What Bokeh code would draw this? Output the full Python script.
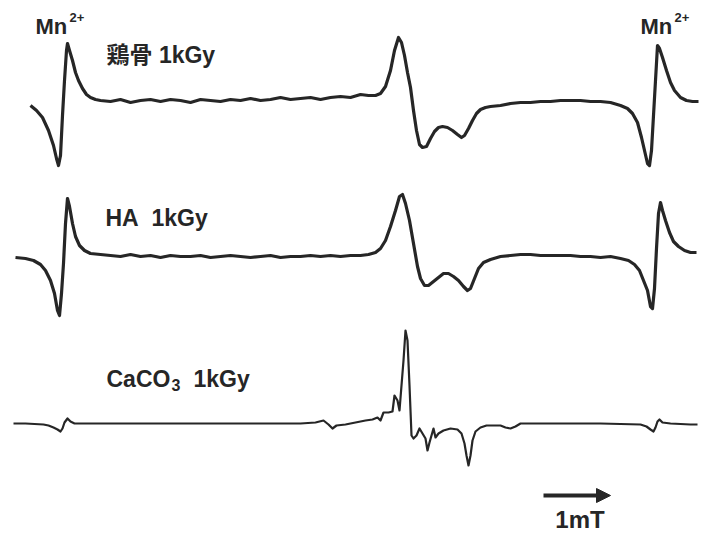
from bokeh.plotting import figure
from bokeh.models import Range1d, Label, Arrow, NormalHead, ColumnDataSource
from bokeh.embed import file_html
from bokeh.resources import INLINE

# ---------------- data ----------------
# magnetic field in scan units (FIELD_PER_MT units = 1 mT), intensity in arbitrary units
FIELD_PER_MT = 67

bone_field = [30, 36, 42, 48, 53, 56, 58, 60, 62, 64, 66, 67, 69, 72, 75, 78, 82, 86, 90, 95, 100,
              110, 120, 130, 140, 150, 160, 170, 180, 190, 200, 210, 220, 230, 240, 250, 260, 270,
              280, 290, 300, 310, 320, 330, 340, 350, 360, 368, 375, 380, 385, 390, 394, 398, 401,
              404, 407, 410, 413, 416, 419, 422, 426, 430, 434, 438, 442, 447, 452, 457, 461, 464,
              468, 472, 476, 480, 485, 490, 500, 510, 520, 530, 540, 550, 560, 570, 580, 590, 600,
              610, 620, 627, 632, 637, 641, 644, 647, 649, 651, 653, 655, 657, 659, 662, 666, 670,
              674, 680, 686, 692, 698]
bone_int = [-5, -10, -17, -30, -45, -58, -65, -55, -15, 20, 50, 57, 50, 40, 28, 20, 12, 6, 3, 1, 0,
            -1, 1, -2, 0, 1, -1, 1, 0, -2, 1, 0, -1, 1, 0, 2, 0, 1,
            3, 1, 2, 3, 1, 3, 4, 3, 6, 5, 5, 7, 14, 30, 50, 63, 58,
            45, 28, 13, -10, -30, -44, -47, -46, -38, -31, -27, -26, -27, -30, -34, -37, -35,
            -28, -20, -13, -9, -7, -6, -5, -3, -2, -2, -1, -1, 0, 0, 0, -1, -1,
            -2, -5, -8, -13, -22, -37, -50, -63, -65, -50, -15, 20, 55, 52, 43, 30, 18,
            10, 3, 0, -1, -1]

ha_field = [15, 25, 33, 40, 45, 50, 54, 57, 59, 61, 63, 65, 67, 69, 72, 75, 79, 84, 90, 100,
            110, 120, 130, 140, 150, 160, 170, 180, 190, 200, 210, 220, 230, 240, 250, 260, 270,
            280, 290, 300, 310, 320, 330, 340, 350, 360, 368, 375, 380, 385, 390, 395, 399, 402,
            405, 409, 413, 417, 420, 424, 428, 433, 438, 443, 448, 453, 458, 463, 467, 470, 474,
            478, 483, 490, 500, 510, 520, 530, 540, 550, 560, 570, 580, 590, 600, 610, 620, 628,
            634, 639, 643, 647, 650, 652, 654, 656, 658, 660, 662, 665, 669, 673, 678, 684, 690, 696]
ha_int = [1, 0, -2, -6, -12, -22, -35, -52, -57, -35, -5, 35, 60, 52, 35, 22, 13, 8, 5, 4,
          3, 2, 4, 2, 3, 1, 3, 2, 2, 3, 1, 2, 3, 2, 1, 2, 3,
          1, 2, 2, 3, 2, 3, 2, 3, 3, 4, 6, 10, 18, 32, 48, 62, 64,
          55, 38, 15, -8, -20, -27, -27, -23, -19, -15, -15, -18, -22, -28, -32, -30, -20,
          -10, -4, -1, 2, 3, 4, 4, 3, 3, 3, 3, 2, 2, 1, 2, 0, -2,
          -6, -12, -22, -32, -48, -50, -30, 10, 45, 56, 48, 38, 26, 17, 12, 8, 6, 6]

caco3_field = [13, 25, 43, 48, 53, 57, 60, 62, 64, 67, 70, 74, 85, 100, 150, 200, 250, 300, 315,
               323, 328, 332, 336, 345, 355, 365, 372, 377, 380, 383, 388, 392, 394, 397, 399, 401,
               403, 405, 407, 409, 411, 413, 416, 419, 422, 425, 427, 429, 431, 433, 435, 438, 443,
               450, 457, 461, 464, 466, 468, 470, 472, 475, 480, 486, 492, 500, 505, 510, 515, 520,
               550, 600, 640, 646, 650, 653, 655, 657, 659, 662, 670, 690, 697]
caco3_int = [2, 2, 1, 0, -2, -4, -6, -3, 3, 7, 4, 2, 2, 2, 2, 2, 2, 2, 3,
             5, 1, -3, 0, 1, 3, 5, 6, 8, 5, 13, 13, 14, 30, 25, 15, 40,
             65, 95, 85, 40, -10, -13, -10, -3, -8, -13, -25, -17, -10, -3, -12, -8, -5,
             -3, -4, -8, -18, -30, -40, -30, -15, -6, -2, 0, 0, 0, -2, -3, -1, 2,
             2, 2, 1, -1, -4, -6, -2, 4, 6, 3, 2, 1, 1]

NBSP = "\u00a0"
sample_labels = ["鶏骨" + NBSP + "1kGy", "HA" + NBSP + NBSP + "1kGy"]
caco3_label = ("CaCO", "3", "1kGy")
trace_offsets = [434, 276, 109]   # vertical stacking of the three spectra
ion_label = "Mn"
ion_charge = "2+"
scale_label = "1mT"

# ---------------- figure ----------------
INK = "#262626"
p = figure(width=712, height=534, output_backend="svg", toolbar_location=None,
           x_range=Range1d(0, 712), y_range=Range1d(0, 534), min_border=0)
p.axis.visible = False
p.grid.visible = False
p.outline_line_color = None
p.background_fill_color = "white"
p.border_fill_color = "white"

traces = [(bone_field, bone_int, 3.2), (ha_field, ha_int, 3.2), (caco3_field, caco3_int, 2.2)]
for (fx, iy, lw), off in zip(traces, trace_offsets):
    src = ColumnDataSource(dict(x=fx, y=[off + v for v in iy]))
    p.line("x", "y", source=src, line_color=INK, line_width=lw, line_join="round")

FONT = "Liberation Sans, Noto Sans CJK JP"


def lab(x, y, text, size, baseline="alphabetic", align="left"):
    p.add_layout(Label(x=x, y=y, text=text, text_font=FONT, text_font_size=size,
                       text_font_style="bold", text_color=INK, text_baseline=baseline,
                       text_align=align))


# sample names
lab(106, trace_offsets[0] + 46, sample_labels[0], "23px")
lab(105, trace_offsets[1] + 41, sample_labels[1], "23px")
lab(106, trace_offsets[2] + 47, caco3_label[0], "23px")
lab(171, trace_offsets[2] + 41, caco3_label[1], "16px")
lab(193, trace_offsets[2] + 47, caco3_label[2], "23px")

# Mn2+ markers above the outer lines
for mx in (35, 640):
    lab(mx, 508, ion_label, "22px")
    lab(mx + 34, 517, ion_charge, "13px")

# 1 mT scale arrow
x0 = 543
p.add_layout(Arrow(end=NormalHead(size=14, fill_color=INK, line_color=INK),
                   x_start=x0, y_start=39, x_end=x0 + FIELD_PER_MT, y_end=39,
                   line_color=INK, line_width=4))
lab(x0 + FIELD_PER_MT / 2 + 3, 2, scale_label, "24px", baseline="bottom", align="center")

open("out.html", "w").write(file_html(p, INLINE))
